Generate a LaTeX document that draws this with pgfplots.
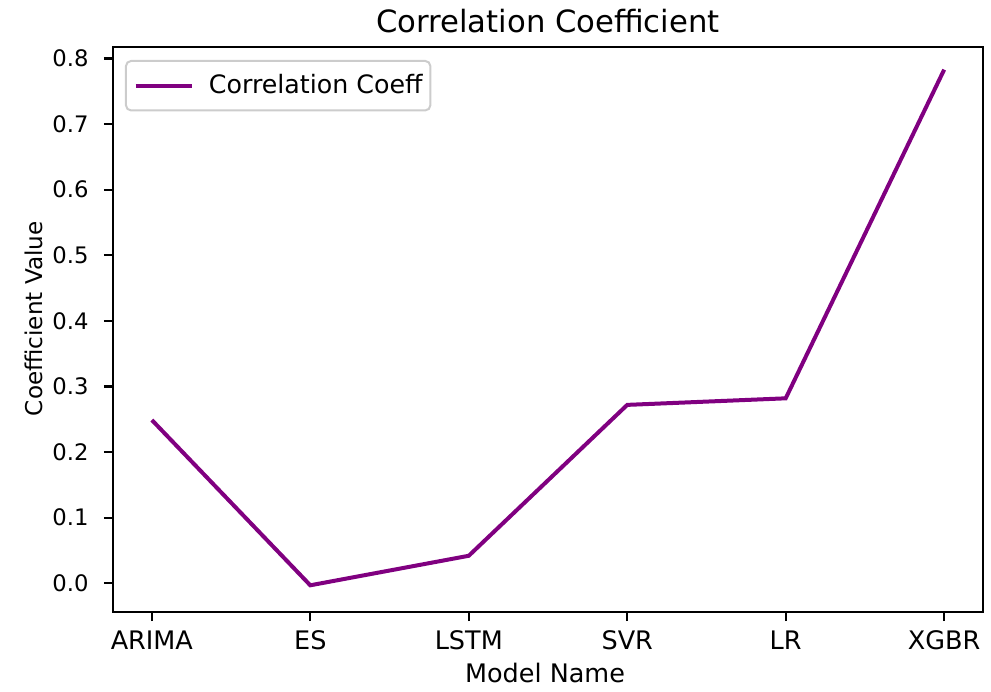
\documentclass[border=0pt]{standalone}
\usepackage{fontspec}
\setmainfont{DejaVu Sans}
\usepackage{pgfplots}
\pgfplotsset{compat=1.18}
\definecolor{mplpurple}{RGB}{128,0,128}
\begin{document}
\begin{tikzpicture}
\path[use as bounding box] (-56.5bp,-40bp) rectangle (439bp,306bp);
\begin{axis}[
  at={(0,0)}, anchor=south west,
  scale only axis, width=435bp, height=282.5bp,
  xmin=-0.245, xmax=5.245, ymin=-0.0437, ymax=0.8175,
  xtick={0,1,2,3,4,5},
  xticklabels={ARIMA,ES,LSTM,SVR,LR,XGBR},
  ytick={0,0.1,0.2,0.3,0.4,0.5,0.6,0.7,0.8},
  yticklabel style={/pgf/number format/fixed, /pgf/number format/fixed zerofill, /pgf/number format/precision=1},
  /pgf/number format/assume math mode=true,
  tick align=outside, tick pos=left,
  major tick length=4.5bp,
  every tick/.style={black, line width=1.1bp},
  axis line style={line width=1.2bp},
  xticklabel style={font=\fontsize{12.8}{15}\selectfont, anchor=base, inner sep=0pt, yshift=-14bp},
  yticklabel style={font=\fontsize{11.4}{13}\selectfont, anchor=east, inner sep=0pt, xshift=-7.5bp},
  every axis title shift=0pt,
  title={Correlation Coefficient},
  title style={font=\fontsize{15.4}{18}\selectfont, at={(0.5,1)}, anchor=base, yshift=7.5bp, inner sep=0pt},
  xlabel={Model Name},
  xlabel style={font=\fontsize{12.8}{15}\selectfont, at={(axis description cs:0.4966,-0.1239)}, anchor=base, inner sep=0pt},
  ylabel={Coefficient Value},
  ylabel style={font=\fontsize{11.6}{14}\selectfont, at={(axis description cs:-0.0805,0.519)}, anchor=base, inner sep=0pt},
  legend style={at={(axis description cs:0.0138,0.977)}, anchor=north west,
    draw=black!20, line width=1bp, rounded corners=2.5bp,
    inner xsep=3.85bp, inner ysep=6.8bp,
    font=\fontsize{12.7}{15}\selectfont,
    nodes={inner sep=0pt},
    /tikz/every odd column/.append style={column sep=7.3bp}},
  legend image code/.code={\draw[#1] (0bp,0bp) -- (28.3bp,0bp);},
  legend cell align=left,
]
\addplot[color=mplpurple, line width=2bp] coordinates {(0,0.249) (1,-0.003) (2,0.042) (3,0.272) (4,0.282) (5,0.783)};
\addlegendentry{Correlation Coeff\hspace{4.15bp}}
\end{axis}
\end{tikzpicture}
\end{document}
